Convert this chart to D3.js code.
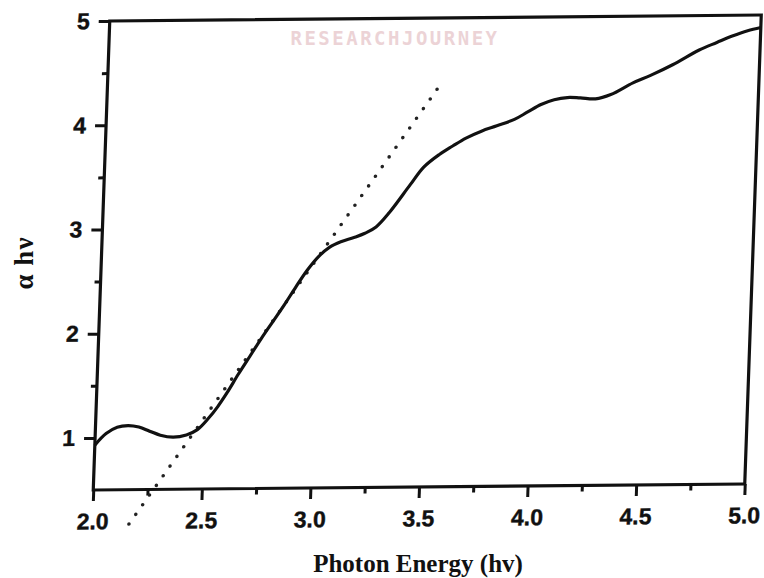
<!DOCTYPE html>
<html>
<head>
<meta charset="utf-8">
<script src="https://cdn.jsdelivr.net/npm/d3@7"></script>
<style>
  body { margin: 0; background: #fff; }
  svg { display: block; }
  .tick text { font-family: "Liberation Sans", Arial, sans-serif; font-weight: bold; font-size: 23px; fill: #111; stroke: #111; stroke-width: 0.4; }
  .tick line { stroke: #111; stroke-width: 3; }
</style>
</head>
<body>
<div id="chart"></div>
<script>
// absorption curve
const energy = [2.00, 2.05, 2.10, 2.15, 2.20, 2.25, 2.30, 2.36, 2.42, 2.47, 2.52, 2.56, 2.60, 2.65, 2.70,
    2.75, 2.80, 2.85, 2.90, 2.95, 3.00, 3.05, 3.10, 3.16, 3.21, 3.26, 3.32, 3.41, 3.47, 3.54, 3.60,
    3.66, 3.73, 3.80, 3.88, 3.94, 4.00, 4.06, 4.12, 4.18, 4.25, 4.32, 4.42, 4.50, 4.60, 4.72, 4.80,
    4.87, 4.94, 5.00];
const alphaHv = [0.93, 1.04, 1.10, 1.115, 1.10, 1.06, 1.02, 1.00, 1.02, 1.07, 1.18, 1.29, 1.42, 1.60, 1.77,
    1.94, 2.10, 2.26, 2.43, 2.59, 2.72, 2.81, 2.86, 2.90, 2.94, 3.00, 3.14, 3.40, 3.57, 3.69, 3.77,
    3.845, 3.91, 3.96, 4.02, 4.09, 4.16, 4.205, 4.225, 4.22, 4.21, 4.25, 4.36, 4.43, 4.53, 4.67, 4.74,
    4.80, 4.85, 4.88];

// dotted tangent (band gap extrapolation)
const fitX = [2.17, 3.53];
const fitY = [0.17, 4.35];

const xMajor = [2.0, 2.5, 3.0, 3.5, 4.0, 4.5, 5.0];
const xMinor = [2.25, 2.75, 3.25, 3.75, 4.25, 4.75];
const yMajor = [1, 2, 3, 4, 5];
const yMinor = [1.5, 2.5, 3.5, 4.5];

const width = 764, height = 578;
const W = 651.5, H = 469;

const svg = d3.select("#chart").append("svg")
    .attr("width", width)
    .attr("height", height);

// the scanned figure is a little skewed, so the plot frame gets a matrix
const plot = svg.append("g")
    .attr("transform", "matrix(1,-0.00921,-0.03518,1,109.75,21)");

const x = d3.scaleLinear().domain([2, 5]).range([0, W]);
const y = d3.scaleLinear().domain([0.5, 5]).range([H, 0]);

// frame
plot.append("rect")
    .attr("x", 0).attr("y", 0)
    .attr("width", W).attr("height", H)
    .attr("fill", "none")
    .attr("stroke", "#111")
    .attr("stroke-width", 3.2);

const xAxis = plot.append("g")
    .attr("transform", "translate(0," + H + ")")
    .call(d3.axisBottom(x).tickValues(xMajor).tickFormat(d3.format(".1f"))
        .tickSize(11).tickSizeOuter(0).tickPadding(12));
xAxis.select(".domain").remove();

const xAxisMinor = plot.append("g")
    .attr("transform", "translate(0," + H + ")")
    .call(d3.axisBottom(x).tickValues(xMinor).tickFormat("").tickSize(6).tickSizeOuter(0));
xAxisMinor.select(".domain").remove();

const yAxis = plot.append("g")
    .call(d3.axisLeft(y).tickValues(yMajor).tickFormat(d3.format("d"))
        .tickSize(11).tickSizeOuter(0).tickPadding(9));
yAxis.select(".domain").remove();

const yAxisMinor = plot.append("g")
    .call(d3.axisLeft(y).tickValues(yMinor).tickFormat("").tickSize(6).tickSizeOuter(0));
yAxisMinor.select(".domain").remove();

// dotted fit line
const fit = fitX.map((d, i) => [d, fitY[i]]);
plot.append("path")
    .datum(fit)
    .attr("fill", "none")
    .attr("stroke", "#222")
    .attr("stroke-width", 3.6)
    .attr("stroke-linecap", "round")
    .attr("stroke-dasharray", "0,11.6")
    .attr("d", d3.line().x(d => x(d[0])).y(d => y(d[1])));

// measured curve
const pts = energy.map((d, i) => [d, alphaHv[i]]);
plot.append("path")
    .datum(pts)
    .attr("fill", "none")
    .attr("stroke", "#111")
    .attr("stroke-width", 3.2)
    .attr("stroke-linejoin", "round")
    .attr("d", d3.line().curve(d3.curveCatmullRom.alpha(0.5)).x(d => x(d[0])).y(d => y(d[1])));

// axis titles
svg.append("text")
    .attr("x", 418)
    .attr("y", 572)
    .attr("text-anchor", "middle")
    .style("font-family", "'Liberation Serif', 'Times New Roman', serif")
    .style("font-weight", "bold")
    .style("font-size", "25px")
    .attr("fill", "#111")
    .text("Photon Energy (hv)");

svg.append("text")
    .attr("transform", "translate(33,263) rotate(-90)")
    .attr("text-anchor", "middle")
    .style("font-family", "'Liberation Serif', 'Times New Roman', serif")
    .style("font-weight", "bold")
    .style("font-size", "27px")
    .style("letter-spacing", "1px")
    .attr("fill", "#111")
    .text("α hν");

// faint stamp left on the scan
svg.append("text")
    .attr("x", 395)
    .attr("y", 45)
    .attr("text-anchor", "middle")
    .style("font-family", "'DejaVu Sans Mono', monospace")
    .style("font-weight", "bold")
    .style("font-size", "19px")
    .style("letter-spacing", "2.5px")
    .attr("fill", "#ecd3d6")
    .text("RESEARCHJOURNEY");
</script>
</body>
</html>
